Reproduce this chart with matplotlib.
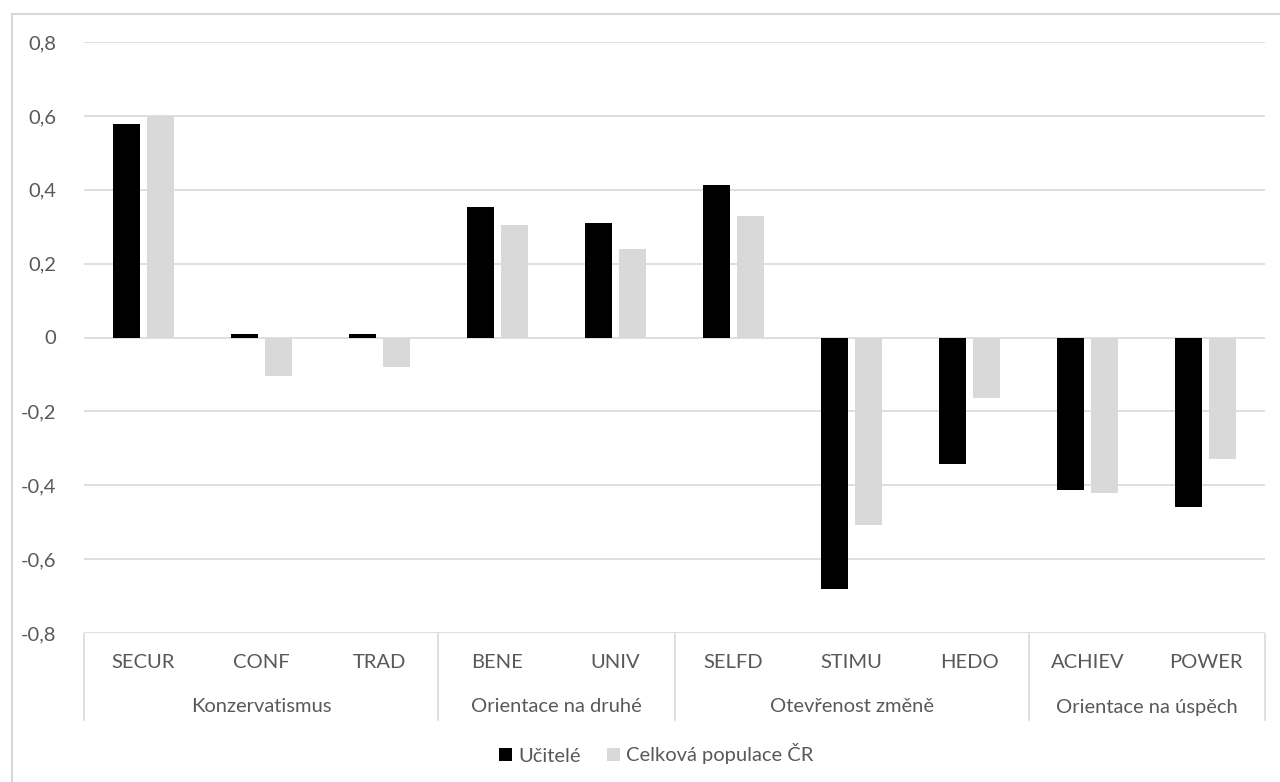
import matplotlib
matplotlib.use("Agg")
from matplotlib import pyplot as plt
from matplotlib.lines import Line2D
from matplotlib.transforms import blended_transform_factory
import numpy as np

kategorie = ["SECUR", "CONF", "TRAD", "BENE", "UNIV", "SELFD", "STIMU", "HEDO", "ACHIEV", "POWER"]
skupiny = ["Konzervatismus", "Orientace na druhé", "Otevřenost změně", "Orientace na úspěch"]
velikost_skupin = [3, 2, 3, 2]
ucitele = [0.578, 0.010, 0.010, 0.353, 0.309, 0.414, -0.682, -0.343, -0.412, -0.459]
populace = [0.600, -0.105, -0.080, 0.305, 0.240, 0.329, -0.507, -0.165, -0.421, -0.330]
y_ticks = [-0.8, -0.6, -0.4, -0.2, 0, 0.2, 0.4, 0.6, 0.8]

plt.rcParams['font.family'] = ['Lato', 'DejaVu Sans']
W, H = 1280, 782
fs = 14.5
fig = plt.figure(figsize=(W/100, H/100), dpi=100, facecolor='white')
ax = fig.add_axes([84/W, 1-633/H, (1265-84)/W, (633-42)/H])

x = np.arange(len(kategorie))
sirka = 0.229
posun = 0.144
ax.bar(x - posun, ucitele, sirka, color='black', label='Učitelé', zorder=3)
ax.bar(x + posun, populace, sirka, color='#D9D9D9', label='Celková populace ČR', zorder=3)

ax.set_xlim(-0.5, len(kategorie) - 0.5)
ax.set_ylim(-0.8, 0.8)
ax.set_yticks(y_ticks)
ax.set_yticklabels([("%g" % t).replace('.', ',') for t in y_ticks])
ax.yaxis.grid(True, color='#D9D9D9', linewidth=1.2, zorder=0)
ax.set_xticks([])
ax.tick_params(axis='y', length=0, pad=20, labelsize=fs, labelcolor='#595959')
for s in ax.spines.values():
    s.set_visible(False)

cl = '#D9D9D9'
tr = blended_transform_factory(ax.transData, fig.transFigure)
for i, k in enumerate(kategorie):
    ax.text(i, 1-663/H, k, transform=tr, ha='center', va='center', fontsize=fs, color='#595959')
start = 0
hranice = [-0.5]
for g, n in zip(skupiny, velikost_skupin):
    ax.text(start + (n-1)/2, 1-707/H, g, transform=tr, ha='center', va='center', fontsize=fs, color='#595959')
    start += n
    hranice.append(start - 0.5)
for b in hranice:
    ax.add_line(Line2D([b, b], [1-634/H, 1-720/H], transform=tr, color=cl, lw=1.2, clip_on=False))

# ramecek grafu (jen horni a leva hrana jsou videt)
fig.add_artist(Line2D([12/W, 1], [1-14/H, 1-14/H], color=cl, lw=1.5))
fig.add_artist(Line2D([12/W, 12/W], [1-14/H, 0], color=cl, lw=1.5))

fig.legend(loc='center', bbox_to_anchor=(656/W, 1-754/H), ncol=2, frameon=False,
           fontsize=fs, handlelength=0.65, handleheight=0.65, handletextpad=0.3,
           columnspacing=1.3, labelcolor='#595959')

fig.savefig("out.png", dpi=100, facecolor='white')
